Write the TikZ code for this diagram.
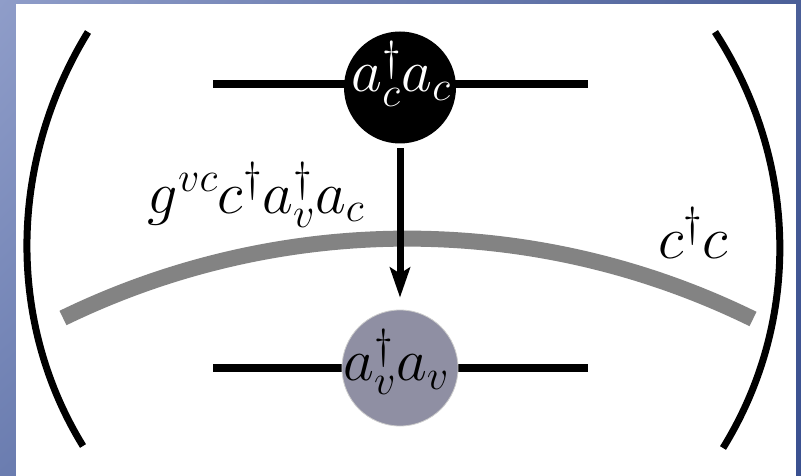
\documentclass[tikz,border=0pt]{standalone}
\usepackage{fix-cm}
\usetikzlibrary{positioning,arrows.meta,shadings}
\definecolor{frameul}{HTML}{8F9DC9}
\definecolor{framell}{HTML}{6B7DB0}
\definecolor{frameur}{HTML}{4B5F98}
\definecolor{framelr}{HTML}{3A5090}
\definecolor{bandgray}{HTML}{838383}
\definecolor{valgray}{HTML}{8F8FA3}

\begin{document}
\begin{tikzpicture}[x=1pt, y=-1pt,
      font=\fontsize{60}{66}\selectfont,
      opnode/.style={circle, inner sep=0pt, minimum size=#1},
      oplab/.style={anchor=base, inner sep=0pt},
      fio/.style={line width=7.5pt},
      paren/.style={line width=7pt},
      banda/.style={bandgray, line width=16pt},
      seta/.style={-{Stealth[length=30pt, width=20pt, inset=6pt]}, line width=7pt}]
    \useasboundingbox (0,0) rectangle (801,476);
    \shade[upper left=frameul, upper right=frameur, lower left=framell, lower right=framelr]
      (0,0) rectangle (801,476);
    \fill[white] (16,4) rectangle (796,476);

    % band and brackets
    \draw[banda] (63,318) .. controls (281,212) and (535,212) .. (753,319);
    \draw[paren] (88,32) .. controls (10,159) and (5,319) .. (83,446);
    \draw[paren] (715,32) .. controls (798,160) and (802,320) .. (723,448);

    % lines through the operators
    \coordinate (tl) at (213,84); \coordinate (tr) at (588,84);
    \coordinate (bl) at (213,368); \coordinate (br) at (588,368);
    \draw[fio] (tl) -- (tr);
    \draw[fio] (bl) -- (br);

    \node[opnode=112pt, fill=black] (ac) at (400,87.5) {};
    \node[opnode=116pt, fill=valgray, draw=gray!40, line width=0.8pt] (av) at (400,368) {};
    \draw[seta, shorten <=4.5pt, shorten >=12pt] (ac) -- (av);

    \node[oplab, text=white] (acl) at (401,92) {$a_c^\dagger a_c$};
    \node[oplab] (avl) at (396,380) {$a_v^\dagger a_v$};
    \node[oplab] (glab) at (256,213) {$g^{vc}c^\dagger a_v^\dagger a_c$};
    \node[oplab] (nlab) at (693,258) {$c^\dagger c$};
  \end{tikzpicture}
\end{document}
